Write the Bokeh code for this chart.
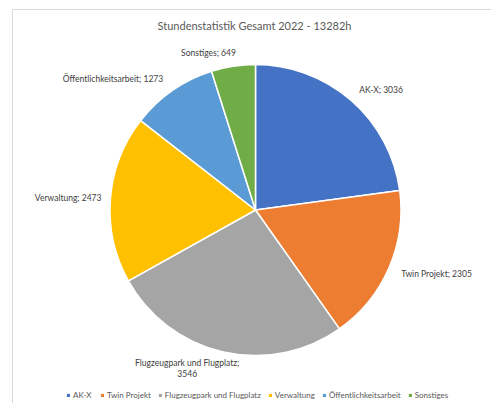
import math
from bokeh.plotting import figure
from bokeh.models import ColumnDataSource, Legend, LegendItem, Label
from bokeh.embed import file_html
from bokeh.resources import INLINE

# ---- data ----
title_text = "Stundenstatistik Gesamt 2022 - 13282h"
categories = ["AK-X", "Twin Projekt", "Flugzeugpark und Flugplatz", "Verwaltung",
              "Öffentlichkeitsarbeit", "Sonstiges"]
hours = [3036, 2305, 3546, 2473, 1273, 649]
colors = ["#4472C4", "#ED7D31", "#A5A5A5", "#FFC000", "#5B9BD5", "#70AD47"]

W, H = 491, 403
FONT = "Lato"

p = figure(width=W, height=H, x_range=(0, W), y_range=(0, H),
           x_axis_type=None, y_axis_type=None, min_border=0,
           toolbar_location=None, output_backend="svg")
p.grid.visible = False
p.outline_line_color = None
p.background_fill_color = "white"
p.border_fill_color = "white"

def Y(ypx):
    return H - ypx

# chart-area frame (decorative)
p.line([12, 12, 520], [Y(420), Y(9), Y(9)], line_color="#d9d9d9", line_width=1)

cx, cy, R = 255, Y(209.5), 145.5
total = sum(hours)
starts, ends, mids = [], [], []
cum = 0
for v in hours:
    a0 = math.pi / 2 - 2 * math.pi * cum / total
    cum += v
    a1 = math.pi / 2 - 2 * math.pi * cum / total
    starts.append(a1)
    ends.append(a0)
    mids.append((a0 + a1) / 2)

src = ColumnDataSource(dict(cat=categories, val=hours, color=colors,
                            start=starts, end=ends))
r = p.wedge(x=cx, y=cy, radius=R, start_angle="start", end_angle="end",
            fill_color="color", line_color="white", line_width=1.5, source=src)
# borderless twin renderer (zero radius, invisible) used only for legend swatches
r_leg = p.wedge(x=cx, y=cy, radius=0, start_angle="start", end_angle="end",
                fill_color="color", line_color=None, source=src)

# data labels: placed just outside the pie along each slice's mid angle
nudge = {0: (2, 4), 1: (4, -2), 2: (-34, 3), 4: (-4, 4), 5: (4, 4)}
for i, (cat, v, m) in enumerate(zip(categories, hours, mids)):
    ax = cx + (R + 9) * math.cos(m)
    ay = cy + (R + 9) * math.sin(m)
    dx, dy = nudge.get(i, (0, 0))
    ax += dx
    ay += dy
    c = math.cos(m)
    s = math.sin(m)
    if s < -0.8:
        align, base = "center", "top"
        txt = f"{cat};\n{v}"
    elif c >= 0:
        align, base = "left", "middle"
        txt = f"{cat}; {v}"
    else:
        align, base = "right", "middle"
        txt = f"{cat}; {v}"
    p.add_layout(Label(x=ax, y=ay, text=txt, text_align=align, text_baseline=base,
                       text_font=FONT, text_font_size="8.5px",
                       text_color="#404040", text_line_height=1.1))

p.add_layout(Label(x=254, y=Y(25), text=title_text, text_align="center",
                   text_baseline="middle", text_font=FONT,
                   text_font_size="11px", text_color="#595959"))

items = [LegendItem(label=c, renderers=[r_leg], index=i) for i, c in enumerate(categories)]
leg = Legend(items=items, orientation="horizontal", location=(66, 3),
             glyph_width=4, glyph_height=4, label_height=10, label_standoff=3,
             spacing=7, padding=0, margin=0,
             label_text_font=FONT, label_text_font_size="8px",
             label_text_color="#595959",
             background_fill_alpha=0, border_line_color=None)
p.add_layout(leg, "center")

open("out.html", "w").write(file_html(p, INLINE))
